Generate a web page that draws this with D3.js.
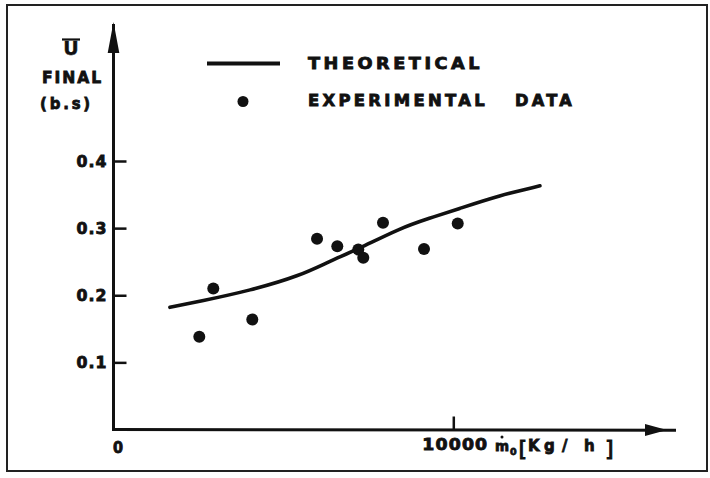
<!DOCTYPE html>
<html><head><meta charset="utf-8">
<script src="https://cdn.jsdelivr.net/npm/d3@7"></script>
<style>
body{margin:0;background:#fff}
text{font-family:"DejaVu Sans",sans-serif;font-weight:bold;fill:#111;stroke:#111;stroke-width:0.8px}
</style>
</head><body><svg id="c" width="710" height="478"></svg>
<script>
// Experimental data points (m_dot [kg/h], U_final)
const expX = [2525, 2937, 4085, 5990, 6586, 7204, 7351, 7931, 9138, 10130];
const expY = [0.138, 0.210, 0.164, 0.284, 0.273, 0.268, 0.256, 0.308, 0.269, 0.307];
// Theoretical curve
const theoX = [1660, 2550, 4020, 5490, 6370, 7170, 8430, 9310, 10110, 11380, 12550];
const theoY = [0.182, 0.191, 0.207, 0.229, 0.251, 0.268, 0.300, 0.315, 0.328, 0.349, 0.363];
const yTicks = [0.1, 0.2, 0.3, 0.4];
const xTicks = [0, 10000];
const xTickLabels = ["0", "10000"];
const legendLabels = ["THEORETICAL", "EXPERIMENTAL", "DATA"];

const svg = d3.select("#c");
const ink = "#111";

// frame
svg.append("rect").attr("x",7).attr("y",5).attr("width",700).attr("height",466)
  .attr("fill","none").attr("stroke","#222").attr("stroke-width",2);

const x = d3.scaleLinear().domain([0,10000]).range([113.5,453.3]);
const y = d3.scaleLinear().domain([0,0.4]).range([429.5,161]);

// y axis ticks + labels
const ya = svg.append("g").attr("transform",`translate(${x(0)},0)`)
  .call(d3.axisLeft(y).tickValues(yTicks).tickSize(-13).tickPadding(6).tickFormat(d3.format(".1f")));
ya.select(".domain").remove();
ya.selectAll("line").attr("stroke",ink).attr("stroke-width",2.5);
ya.selectAll("text").attr("font-size",15).attr("fill",ink).attr("letter-spacing",1)
  .attr("textLength",31).attr("lengthAdjust","spacingAndGlyphs").attr("dy","0.36em");

// x axis ticks + labels
const xa = svg.append("g").attr("transform",`translate(0,${y(0)})`)
  .call(d3.axisBottom(x).tickValues(xTicks).tickSize(-13).tickPadding(9.5)
    .tickFormat((d,i)=>xTickLabels[i]));
xa.select(".domain").remove();
xa.selectAll("line").attr("stroke",ink).attr("stroke-width",2.5)
  .attr("opacity",(d)=>d===0?0:1);
xa.selectAll("text").attr("font-size",15).attr("fill",ink).attr("letter-spacing",1)
  .attr("textLength",(d)=>d===0?11:66).attr("lengthAdjust","spacingAndGlyphs")
  .attr("dx",(d)=>d===0?4.5:1.5).attr("dy",(d)=>d===0?"0.95em":"0.71em");

// axis lines with arrows
svg.append("line").attr("x1",x(0)).attr("y1",y(0)+1.5).attr("x2",x(0)).attr("y2",24)
  .attr("stroke",ink).attr("stroke-width",3);
svg.append("path").attr("d",`M${x(0)},22 L${x(0)-5.8},53 L${x(0)+5.8},53 Z`).attr("fill",ink);
svg.append("line").attr("x1",x(0)-1.5).attr("y1",y(0)).attr("x2",676).attr("y2",y(0)+0.8)
  .attr("stroke",ink).attr("stroke-width",3);
svg.append("path").attr("d",`M667,${y(0)+0.6} L645,${y(0)-5.5} L645,${y(0)+6.5} Z`).attr("fill",ink);

// theoretical curve
const line = d3.line().x(d=>x(d[0])).y(d=>y(d[1])).curve(d3.curveBasis);
svg.append("path").datum(theoX.map((v,i)=>[v,theoY[i]]))
  .attr("d",line).attr("fill","none").attr("stroke",ink).attr("stroke-width",3.6)
  .attr("stroke-linecap","round");

// experimental points
svg.append("g").selectAll("circle").data(expX.map((v,i)=>[v,expY[i]])).join("circle")
  .attr("cx",d=>x(d[0])).attr("cy",d=>y(d[1])).attr("r",6).attr("fill",ink);

// legend
svg.append("line").attr("x1",207).attr("x2",280).attr("y1",63.5).attr("y2",63.5)
  .attr("stroke",ink).attr("stroke-width",4);
svg.append("circle").attr("cx",243).attr("cy",101.5).attr("r",5.5).attr("fill",ink);
svg.append("text").attr("x",308).attr("y",69).attr("font-size",15).attr("letter-spacing",3)
  .attr("textLength",175).attr("lengthAdjust","spacingAndGlyphs").text(legendLabels[0]);
svg.append("text").attr("x",308).attr("y",106).attr("font-size",15).attr("letter-spacing",3)
  .attr("textLength",180).attr("lengthAdjust","spacingAndGlyphs").text(legendLabels[1]);
svg.append("text").attr("x",515).attr("y",106).attr("font-size",15).attr("letter-spacing",3)
  .attr("textLength",60).attr("lengthAdjust","spacingAndGlyphs").text(legendLabels[2]);

// y-axis title
svg.append("text").attr("x",71).attr("y",55).attr("font-size",19).attr("text-anchor","middle")
  .style("stroke-width","0.4px").text("U");
svg.append("line").attr("x1",62).attr("x2",80).attr("y1",39.5).attr("y2",39.5)
  .attr("stroke",ink).attr("stroke-width",2.2);
svg.append("text").attr("x",42).attr("y",82.5).attr("font-size",16).attr("letter-spacing",2)
  .attr("textLength",61).attr("lengthAdjust","spacingAndGlyphs").text("FINAL");
svg.append("text").attr("x",40).attr("y",109).attr("font-size",16).attr("letter-spacing",3)
  .attr("textLength",53).attr("lengthAdjust","spacingAndGlyphs").text("(b.s)");

// x-axis unit label (m-dot with subscript 0, unit in brackets)
const ux = [495, 510, 518.5, 528, 544, 562, 584, 605];
svg.append("text").attr("x",ux[0]).attr("y",451).attr("font-size",13.5).text("m");
svg.append("circle").attr("cx",502).attr("cy",437).attr("r",1.5).attr("fill",ink);
svg.append("text").attr("x",ux[1]).attr("y",455).attr("font-size",9.5).text("0");
svg.append("text").attr("x",ux[2]).attr("y",456).attr("font-size",22)
  .style("font-weight","normal").style("stroke-width","1px").text("[");
svg.append("text").attr("x",ux[3]).attr("y",451).attr("font-size",15).text("K");
svg.append("text").attr("x",ux[4]).attr("y",451).attr("font-size",15).text("g");
svg.append("text").attr("x",ux[5]).attr("y",451).attr("font-size",15).text("/");
svg.append("text").attr("x",ux[6]).attr("y",451).attr("font-size",15).text("h");
svg.append("text").attr("x",ux[7]).attr("y",456).attr("font-size",22)
  .style("font-weight","normal").style("stroke-width","1px").text("]");
</script>
</body></html>
